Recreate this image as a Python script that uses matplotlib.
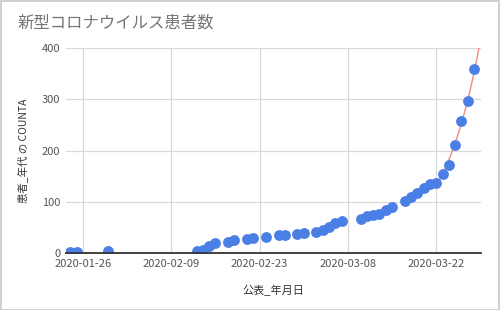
import numpy as np
import matplotlib
matplotlib.use("Agg")
import matplotlib.pyplot as plt
import matplotlib.dates as mdates
from matplotlib.patches import Rectangle

plt.rcParams['font.family'] = ['Noto Sans CJK JP', 'DejaVu Sans']

# cumulative patients by publication date
dates = ["2020-01-24", "2020-01-25", "2020-01-30",
         "2020-02-13", "2020-02-14", "2020-02-15", "2020-02-16", "2020-02-18",
         "2020-02-19", "2020-02-21", "2020-02-22", "2020-02-24", "2020-02-26",
         "2020-02-27", "2020-02-29", "2020-03-01", "2020-03-03", "2020-03-04",
         "2020-03-05", "2020-03-06", "2020-03-07", "2020-03-10", "2020-03-11",
         "2020-03-12", "2020-03-13", "2020-03-14", "2020-03-15", "2020-03-17",
         "2020-03-18", "2020-03-19", "2020-03-20", "2020-03-21", "2020-03-22",
         "2020-03-23", "2020-03-24", "2020-03-25", "2020-03-26", "2020-03-27",
         "2020-03-28"]
counts = [1, 2, 3,
          4, 6, 14, 19, 22,
          25, 28, 29, 32, 35,
          36, 37, 38, 40, 45,
          51, 58, 63, 66, 72,
          74, 76, 84, 89, 102,
          110, 118, 127, 135, 137,
          154, 171, 211, 258, 297,
          360]
tick_dates = ["2020-01-26", "2020-02-09", "2020-02-23", "2020-03-08", "2020-03-22"]

title = "新型コロナウイルス患者数"
xlabel = "公表_年月日"
ylabel = "患者_年代 の COUNTA"

x = mdates.datestr2num(dates)
y = np.array(counts, dtype=float)
ticks = mdates.datestr2num(tick_dates)

fig = plt.figure(figsize=(5, 3.1), dpi=100)
fig.patches.append(Rectangle((0.001, 0.001), 0.997, 0.996, transform=fig.transFigure,
                             fill=False, edgecolor="#c8c8c8", linewidth=1.2))
ax = fig.add_axes([0.132, 0.184, 0.830, 0.661])

xmin = ticks[0] - 2.7
xmax = ticks[-1] + 7.1
ax.set_xlim(xmin, xmax)
ax.set_ylim(0, 400)

# trend line over the last week (exponential fit)
sel = x >= ticks[-1]
k, b = np.polyfit(x[sel], np.log(y[sel]), 1)
xt = np.linspace(ticks[-1], xmax, 50)
ax.plot(xt, np.exp(k * xt + b), color="#ef8a80", linewidth=1.0, zorder=2)

ax.plot(x, y, "o", color="#4a7fe6", markersize=7.8, markeredgewidth=0, zorder=3)

ax.set_xticks(ticks)
ax.set_xticklabels(tick_dates)
ax.set_yticks([0, 100, 200, 300, 400])
ax.grid(True, color="#d9d9d9", linewidth=0.9)
ax.set_axisbelow(True)
for s in ["top", "right", "left"]:
    ax.spines[s].set_visible(False)
ax.spines["bottom"].set_color("#333333")
ax.spines["bottom"].set_linewidth(1.3)
ax.spines["bottom"].set_zorder(4)
ax.tick_params(length=0, labelsize=8, labelcolor="#555555", pad=4)

ax.set_xlabel(xlabel, fontsize=8, color="#333333", labelpad=12)
ax.set_ylabel(ylabel, fontsize=7.5, color="#333333", labelpad=9)
fig.text(0.036, 0.925, title, fontsize=11.8, color="#757575", ha="left", va="center")

fig.savefig("out.png", dpi=100)
